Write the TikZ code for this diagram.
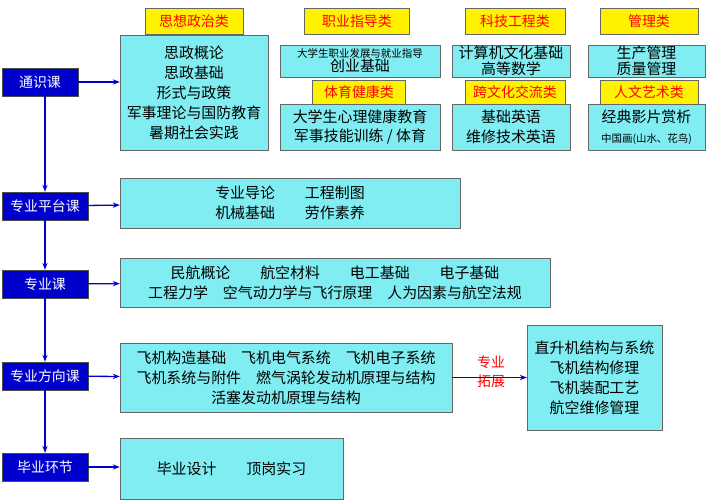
\documentclass[tikz,border=0pt]{standalone}
\usepackage{fontspec}
\setmainfont{Noto Sans CJK SC}
\usetikzlibrary{arrows.meta}
\definecolor{stage}{rgb}{0,0,0.8}
\definecolor{course}{rgb}{0.5,0.93,0.95}
\definecolor{tag}{rgb}{1,0.95,0}
\tikzset{stagebox/.style={draw=black!70,fill=stage,text=white,font=\fontsize{14}{15}\selectfont,minimum width=86bp,minimum height=28bp,inner sep=0pt},
  coursebox/.style={draw=black!60,fill=course,align=center,font=\fontsize{15}{20}\selectfont,inner sep=0pt},
  tagbox/.style={draw=black!60,fill=tag,text=red,font=\fontsize{14}{15}\selectfont,inner sep=0pt,minimum height=26bp},
  flow/.style={stage,line width=1.3pt,-{Stealth[length=7pt]}}}
\begin{document}
\begin{tikzpicture}[x=1bp,y=-1bp]
    \useasboundingbox (0,0) rectangle (712,500);
    % Stages on the left
    \node[stagebox,minimum width=76bp] (tong) at (40,82) {通识课};
    \node[stagebox] (ping) at (45,206) {专业平台课};
    \node[stagebox] (zhuan) at (45,284) {专业课};
    \node[stagebox] (fang) at (45,376) {专业方向课};
    \node[stagebox] (bi) at (45,467) {毕业环节};
    % General courses
    \node[coursebox,minimum width=148bp,minimum height=115bp] (sz) at (194,92.5) {思政概论\\思政基础\\形式与政策\\军事理论与国防教育\\暑期社会实践};
    \node[tagbox,minimum width=98bp] (szt) at (194,21) {思想政治类};
    \node[coursebox,minimum width=160bp,minimum height=32bp,font=\fontsize{10.5}{14}\selectfont] (zy) at (360,61) {大学生职业发展与就业指导\\{\fontsize{15}{16}\selectfont 创业基础}};
    \node[tagbox,minimum width=105bp] (zyt) at (357,21) {职业指导类};
    \node[coursebox,minimum width=160bp,minimum height=46bp] (ty) at (360,127) {大学生心理健康教育\\军事技能训练 / 体育};
    \node[tagbox,minimum width=93bp,minimum height=24bp] (tyt) at (359,92) {体育健康类};
    \node[coursebox,minimum width=118bp,minimum height=32bp,font=\fontsize{15}{16}\selectfont] (kj) at (511,61) {计算机文化基础\\高等数学};
    \node[tagbox,minimum width=100bp] (kjt) at (515,21) {科技工程类};
    \node[coursebox,minimum width=118bp,minimum height=46bp] (kw) at (511,127) {基础英语\\维修技术英语};
    \node[tagbox,minimum width=100bp,minimum height=24bp] (kwt) at (515,92) {跨文化交流类};
    \node[coursebox,minimum width=117bp,minimum height=32bp,font=\fontsize{15}{16}\selectfont] (gl) at (646.5,61) {生产管理\\质量管理};
    \node[tagbox,minimum width=98bp] (glt) at (649,21) {管理类};
    \node[coursebox,minimum width=117bp,minimum height=46bp] (rw) at (646.5,127) {经典影片赏析\\{\fontsize{10.5}{12}\selectfont 中国画(山水、花鸟)}};
    \node[tagbox,minimum width=98bp,minimum height=24bp] (rwt) at (649,92) {人文艺术类};
    % Other course boxes
    \node[coursebox,minimum width=340bp,minimum height=50bp] (pt) at (290,203) {专业导论\qquad 工程制图\\机械基础\qquad 劳作素养};
    \node[coursebox,minimum width=430bp,minimum height=49bp] (zk) at (335,282.5) {民航概论\qquad 航空材料\qquad 电工基础\qquad 电子基础\\工程力学\quad 空气动力学与飞行原理\quad 人为因素与航空法规};
    \node[coursebox,minimum width=332bp,minimum height=69bp] (fx) at (286,377.5) {飞机构造基础\quad 飞机电气系统\quad 飞机电子系统\\飞机系统与附件\quad 燃气涡轮发动机原理与结构\\活塞发动机原理与结构};
    \node[coursebox,minimum width=135bp,minimum height=105bp] (tz) at (594.5,377.5) {直升机结构与系统\\飞机结构修理\\飞机装配工艺\\航空维修管理};
    \node[coursebox,minimum width=223bp,minimum height=61bp] (by) at (231.5,468.5) {毕业设计\qquad 顶岗实习};
    \node[text=red,align=center,font=\fontsize{14}{19}\selectfont] (tzl) at (491,372) {专业\\拓展};
    % Connectors
    \draw[flow] (tong.east) -- (sz.west |- tong.east);
    \draw[flow] (ping) -- (pt);
    \draw[flow] (zhuan) -- (zk);
    \draw[flow] (fang) -- (fx);
    \draw[flow] (bi) -- (by.west |- bi.east);
    \draw[flow] (fx) -- (tz);
    \draw[flow] (tong.south -| ping.north) -- (ping.north);
    \draw[flow] (ping) -- (zhuan);
    \draw[flow] (zhuan) -- (fang);
    \draw[flow] (fang) -- (bi);
\end{tikzpicture}
\end{document}
